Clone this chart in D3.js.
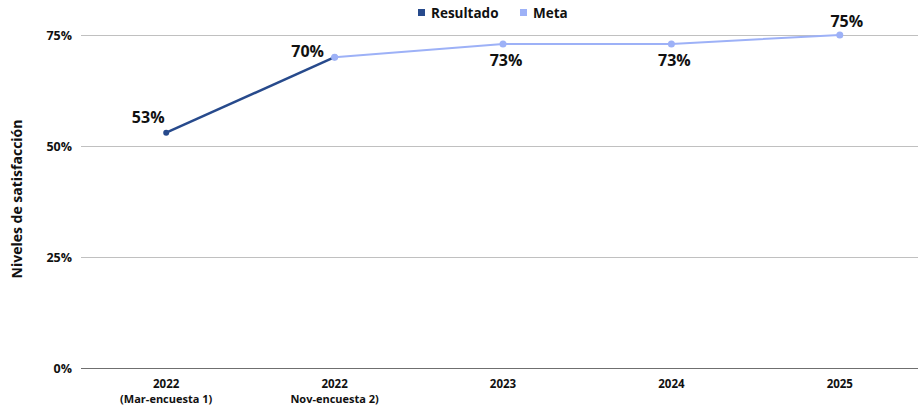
<!DOCTYPE html>
<html>
<head>
<meta charset="utf-8">
<script src="https://cdn.jsdelivr.net/npm/d3@7"></script>
<style>
  html, body { margin: 0; padding: 0; background: #fff; }
  svg { display: block; font-family: "Open Sans", "Noto Sans", sans-serif; }
</style>
</head>
<body>
<svg id="chart" width="918" height="407"></svg>
<script>
// Categories (two text lines each) and series values
const categories = ["2022|(Mar-encuesta 1)", "2022|Nov-encuesta 2)", "2023", "2024", "2025"];
const resultado = [0.53, 0.70, null, null, null];
const meta = [null, 0.70, 0.73, 0.73, 0.75];
const yTicks = [0, 0.25, 0.5, 0.75];
const seriesNames = ["Resultado", "Meta"];
const seriesColors = ["#274a8c", "#9db1f7"];
// Label placement for each point
const resultadoLabelPos = ["above-left", null, null, null, null];
const metaLabelPos = [null, "left", "below", "below", "above"];

const svg = d3.select("#chart");
const W = 918, H = 407;
const margin = { left: 82, right: -6, top: 35, bottom: 39 };
const BOLD = 700;

const x = d3.scaleBand().domain(categories).range([margin.left, W - margin.right]);
const y = d3.scaleLinear().domain([0, 0.75]).range([H - margin.bottom, margin.top]);
const cx = c => x(c) + x.bandwidth() / 2;

// Horizontal gridlines
svg.append("g").selectAll("line").data(yTicks).join("line")
  .attr("x1", margin.left - 1).attr("x2", W)
  .attr("y1", d => Math.round(y(d)) + 0.5).attr("y2", d => Math.round(y(d)) + 0.5)
  .attr("stroke", d => d === 0 ? "#6f6f6f" : "#c0c0c0")
  .attr("stroke-width", 1);

// Y axis labels
const yAxis = d3.axisLeft(y).tickValues(yTicks).tickFormat(d3.format(".0%")).tickSize(0).tickPadding(10);
const gy = svg.append("g").attr("transform", `translate(${margin.left},0)`).call(yAxis);
gy.select(".domain").remove();
gy.selectAll("text").attr("font-size", 12.5).attr("font-weight", BOLD).attr("fill", "#111")
  .attr("font-family", "'Open Sans', sans-serif").attr("dy", "0.35em");

// X axis category labels: year on the first line, survey note below
const gx = svg.append("g");
categories.forEach(c => {
  const parts = c.split("|");
  gx.append("text").attr("x", cx(c)).attr("y", 387.5)
    .attr("text-anchor", "middle").attr("font-size", 11.5).attr("font-weight", BOLD).attr("fill", "#111")
    .text(parts[0]);
  if (parts[1]) gx.append("text").attr("x", cx(c)).attr("y", 403)
    .attr("text-anchor", "middle").attr("font-size", 11).attr("font-weight", BOLD).attr("fill", "#111")
    .text(parts[1]);
});

// Y axis title
svg.append("text")
  .attr("transform", `translate(22,199) rotate(-90)`)
  .attr("text-anchor", "middle").attr("font-size", 14).attr("font-weight", BOLD).attr("fill", "#111")
  .text("Niveles de satisfacción");

// Series lines, markers and value labels
const line = d3.line().defined(d => d.v != null).x(d => cx(d.c)).y(d => y(d.v));
const labelOffset = {
  "above-left": [-18, -10],
  "left": [-27, 0],
  "below": [3, 22],
  "above": [7, -8]
};
function drawSeries(values, color, labelPos, width, r) {
  const pts = values.map((v, i) => ({ c: categories[i], v, pos: labelPos[i] }));
  svg.append("path").datum(pts).attr("d", line).attr("fill", "none")
    .attr("stroke", color).attr("stroke-width", width);
  const valid = pts.filter(d => d.v != null);
  svg.append("g").selectAll("circle").data(valid).join("circle")
    .attr("cx", d => cx(d.c)).attr("cy", d => y(d.v)).attr("r", r).attr("fill", color);
  svg.append("g").selectAll("text").data(valid.filter(d => d.pos)).join("text")
    .attr("x", d => cx(d.c) + labelOffset[d.pos][0])
    .attr("y", d => y(d.v) + labelOffset[d.pos][1])
    .attr("text-anchor", "middle").attr("font-size", 16).attr("font-weight", 700).attr("fill", "#111")
    .text(d => d3.format(".0%")(d.v));
}
drawSeries(resultado, seriesColors[0], resultadoLabelPos, 2.5, 3);
drawSeries(meta, seriesColors[1], metaLabelPos, 2, 3.5);

// Legend
const legendX = [418, 520];
seriesNames.forEach((n, i) => {
  svg.append("rect").attr("x", legendX[i]).attr("y", 9).attr("width", 7).attr("height", 7).attr("fill", seriesColors[i]);
  svg.append("text").attr("x", legendX[i] + 13).attr("y", 18).attr("font-size", 13.5).attr("font-weight", BOLD)
    .attr("fill", "#111").text(n);
});
</script>
</body>
</html>
